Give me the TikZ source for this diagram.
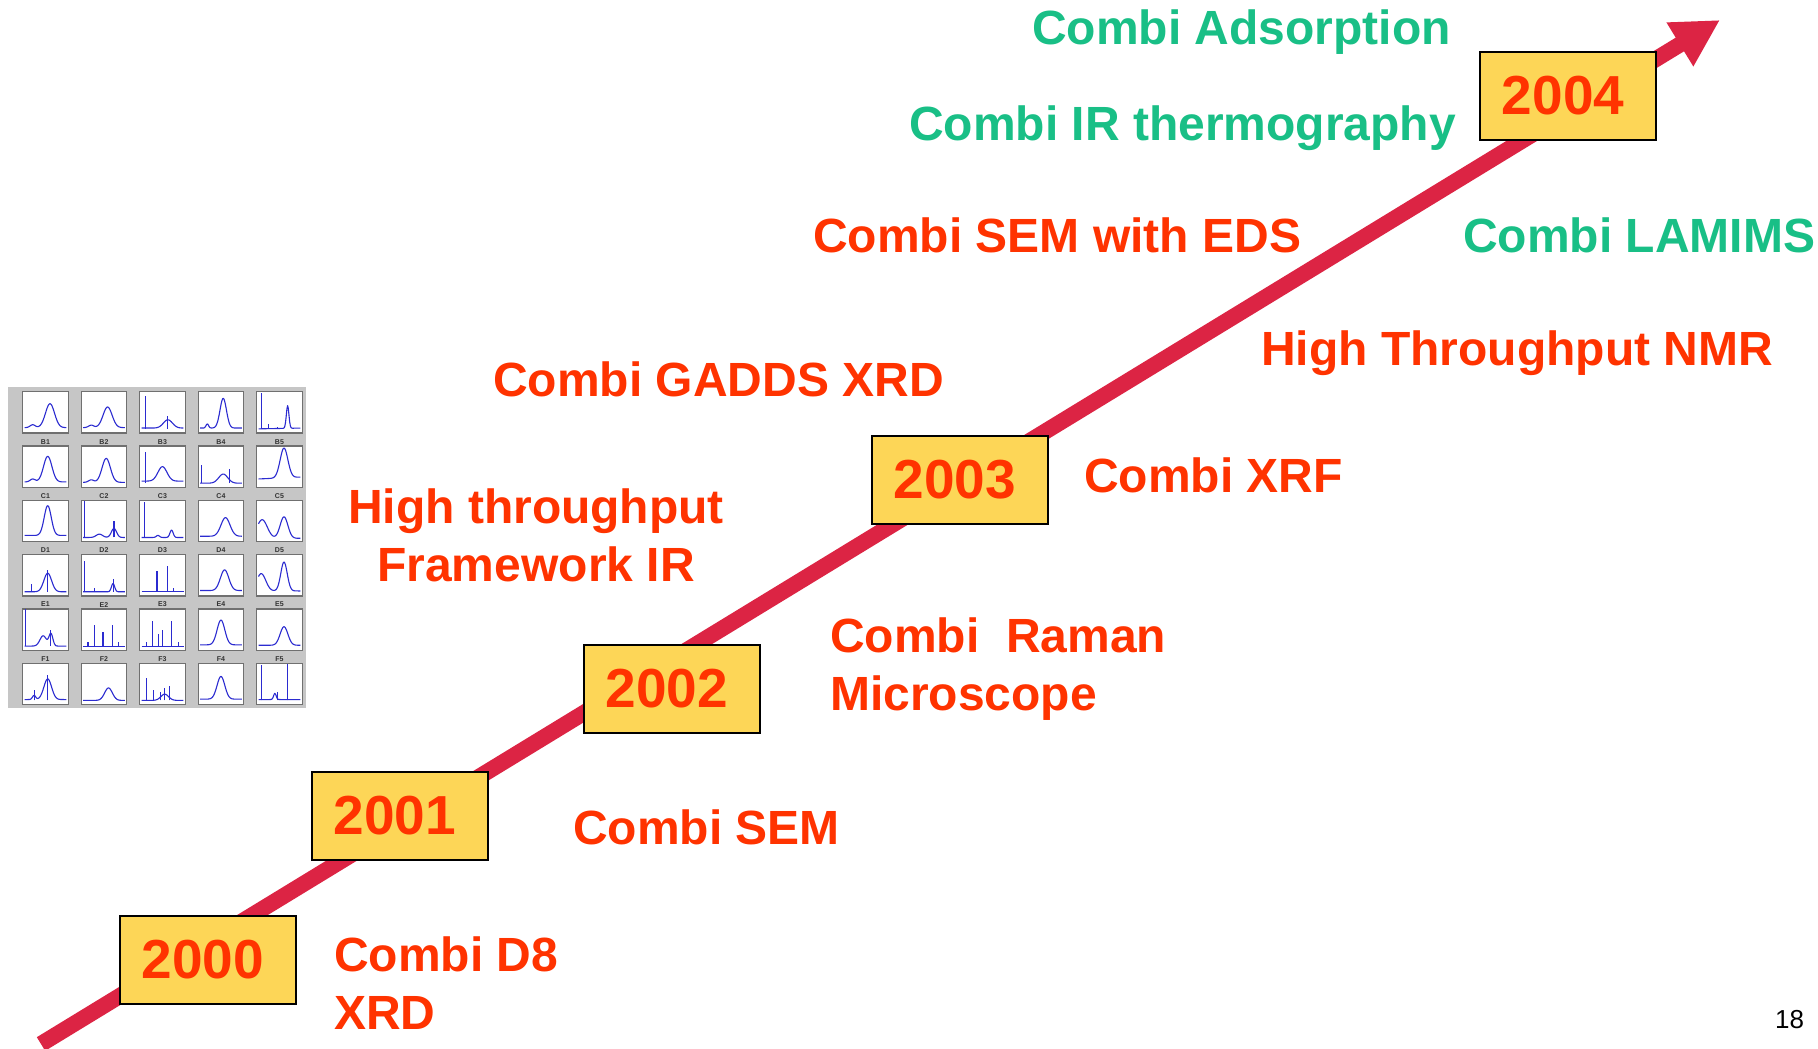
\documentclass[tikz,border=0pt]{standalone}
\usepackage{fontspec}
\setmainfont{Liberation Sans}
\usetikzlibrary{arrows.meta}
\definecolor{redtext}{HTML}{FF3300}
\definecolor{greentext}{HTML}{19BF86}
\definecolor{arrowred}{HTML}{DC2444}
\definecolor{boxyellow}{HTML}{FDD657}
\definecolor{gridgrey}{HTML}{C6C6C6}
\definecolor{framegrey}{HTML}{707070}
\definecolor{specblue}{HTML}{2B2BD0}
\tikzset{
  yearbox/.style={draw=black, line width=2pt, fill=boxyellow, minimum width=176pt,
    minimum height=88pt, inner sep=0pt, text=redtext,
    font=\fontsize{55}{60}\selectfont\bfseries,
    execute at begin node={\hspace*{-10pt}}},
  redlabel/.style={text=redtext, inner sep=0pt, font=\fontsize{48}{58}\selectfont\bfseries},
  greenlabel/.style={text=greentext, inner sep=0pt, font=\fontsize{48}{58}\selectfont\bfseries},
  arrowline/.style={draw=arrowred, line width=16pt, -{Triangle[length=47pt,width=48pt]}},
  panelframe/.style={draw=framegrey, line width=1.2pt, fill=white},
  speccurve/.style={draw=specblue, line width=1.1pt, line join=round},
  panellabel/.style={text=black!80, inner sep=0pt, font=\fontsize{7}{8}\selectfont\bfseries},
}
\newcommand\spk[2]{\draw[speccurve] (#1,0.1) -- (#1,#2);}
\newcommand\specpanel[5]{%
  \begin{scope}[shift={({22.7+58.5*#1},{433+54.3*#2})}, x=45.5pt, y=41.3pt]
    \draw[panelframe] (0,0) rectangle (1,1);
    \begin{scope}
      \clip (0.02,0.02) rectangle (0.98,0.98);
      \draw[speccurve] plot[domain=0.04:0.96, samples=60] (\x,{#4});
      #5
    \end{scope}
    \if\relax\detokenize{#3}\relax\else
      \node[panellabel] (lbl#3) at (0.5,-0.21) {#3};
    \fi
  \end{scope}}
\begin{document}
\begin{tikzpicture}[x=1pt, y=-1pt,
  declare function={gs(\t,\c,\w)=exp(-min(10,((\t-\c)/\w)*((\t-\c)/\w)));}]
\useasboundingbox (0,0) rectangle (1818,1049);
\fill[white] (0,0) rectangle (1818,1049);

% spectra grid
\fill[gridgrey] (8,387) rectangle (306,708);
\specpanel{0}{0}{B1}{0.13+0.07*gs(\x,0.22,0.08)+0.58*gs(\x,0.6,0.14)}{}
\specpanel{1}{0}{B2}{0.13+0.06*gs(\x,0.22,0.08)+0.5*gs(\x,0.58,0.14)}{}
\specpanel{2}{0}{B3}{0.12+0.2*gs(\x,0.62,0.14)}{\spk{0.12}{0.9}\spk{0.62}{0.42}}
\specpanel{3}{0}{B4}{0.12+0.1*gs(\x,0.2,0.04)+0.72*gs(\x,0.55,0.1)}{}
\specpanel{4}{0}{B5}{0.1+0.02*\x+0.55*gs(\x,0.68,0.04)}{\spk{0.1}{0.98}\spk{0.25}{0.22}\spk{0.45}{0.15}}
\specpanel{0}{1}{C1}{0.13+0.07*gs(\x,0.22,0.08)+0.62*gs(\x,0.55,0.13)}{}
\specpanel{1}{1}{C2}{0.12+0.06*gs(\x,0.22,0.08)+0.58*gs(\x,0.55,0.13)}{}
\specpanel{2}{1}{C3}{0.15+0.35*gs(\x,0.5,0.14)}{\spk{0.12}{0.85}}
\specpanel{3}{1}{C4}{0.1+0.22*gs(\x,0.55,0.14)}{\spk{0.08}{0.55}\spk{0.68}{0.45}}
\specpanel{4}{1}{C5}{0.2+0.05*\x+0.72*gs(\x,0.6,0.12)}{}
\specpanel{0}{2}{D1}{0.15+0.72*gs(\x,0.55,0.11)}{}
\specpanel{1}{2}{D2}{0.1+0.08*gs(\x,0.4,0.1)+0.22*gs(\x,0.72,0.08)}{\spk{0.08}{1.0}\spk{0.72}{0.5}}
\specpanel{2}{2}{D3}{0.1+0.05*gs(\x,0.4,0.05)+0.18*gs(\x,0.7,0.05)}{\spk{0.1}{0.95}}
\specpanel{3}{2}{D4}{0.13+0.45*gs(\x,0.6,0.14)}{}
\specpanel{4}{2}{D5}{0.08+0.45*gs(\x,0.12,0.16)+0.52*gs(\x,0.6,0.12)}{}
\specpanel{0}{3}{E1}{0.1+0.45*gs(\x,0.55,0.12)}{\spk{0.2}{0.28}\spk{0.55}{0.62}}
\specpanel{1}{3}{E2}{0.1+0.2*gs(\x,0.7,0.05)}{\spk{0.08}{0.85}\spk{0.7}{0.4}\spk{0.3}{0.2}}
\specpanel{2}{3}{E3}{0.1+0*\x}{\spk{0.38}{0.6}\spk{0.62}{0.72}\spk{0.75}{0.2}}
\specpanel{3}{3}{E4}{0.13+0.5*gs(\x,0.58,0.13)}{}
\specpanel{4}{3}{E5}{0.12+0.42*gs(\x,0.1,0.14)+0.7*gs(\x,0.6,0.1)}{}
\specpanel{0}{4}{F1}{0.1+0.25*gs(\x,0.45,0.1)+0.3*gs(\x,0.62,0.06)}{\spk{0.06}{1.0}\spk{0.62}{0.5}}
\specpanel{1}{4}{F2}{0.1+0*\x}{\spk{0.3}{0.6}\spk{0.48}{0.45}\spk{0.68}{0.62}\spk{0.15}{0.2}\spk{0.82}{0.2}}
\specpanel{2}{4}{F3}{0.1+0*\x}{\spk{0.28}{0.7}\spk{0.42}{0.4}\spk{0.5}{0.5}\spk{0.7}{0.7}\spk{0.15}{0.2}\spk{0.85}{0.2}}
\specpanel{3}{4}{F4}{0.13+0.6*gs(\x,0.5,0.12)}{}
\specpanel{4}{4}{F5}{0.12+0.45*gs(\x,0.6,0.12)}{}
\specpanel{0}{5}{}{0.12+0.1*gs(\x,0.25,0.05)+0.5*gs(\x,0.55,0.12)}{\spk{0.25}{0.35}\spk{0.55}{0.72}}
\specpanel{1}{5}{}{0.1+0.3*gs(\x,0.6,0.12)}{}
\specpanel{2}{5}{}{0.1+0.15*gs(\x,0.55,0.12)}{\spk{0.15}{0.65}\spk{0.3}{0.35}\spk{0.45}{0.3}\spk{0.55}{0.4}\spk{0.65}{0.45}}
\specpanel{3}{5}{}{0.13+0.55*gs(\x,0.5,0.12)}{}
\specpanel{4}{5}{}{0.12+0.15*gs(\x,0.4,0.04)}{\spk{0.1}{0.95}\spk{0.68}{0.98}\spk{0.45}{0.3}}

% timeline arrow
\coordinate (arrowstart) at (41,1044);
\coordinate (arrowtip) at (1720,20);
\begin{scope}
  \clip (0,0) rectangle (1818,1049);
  \draw[arrowline] (arrowstart) -- (arrowtip);
\end{scope}

% year boxes
\node[yearbox] (y2000) at (208,960) {2000};
\node[yearbox] (y2001) at (400,816) {2001};
\node[yearbox] (y2002) at (672,689) {2002};
\node[yearbox] (y2003) at (960,480) {2003};
\node[yearbox] (y2004) at (1568,96) {2004};

% labels
\node[greenlabel, anchor=base west] (adsorption) at (1032,45) {Combi Adsorption};
\node[greenlabel, anchor=base west] (irthermo) at (909,140) {Combi IR thermography};
\node[redlabel, anchor=base west] (semeds) at (813,252) {Combi SEM with EDS};
\node[greenlabel, anchor=base west] (lamims) at (1463,252) {Combi LAMIMS};
\node[redlabel, anchor=base west] (nmr) at (1261,365) {High Throughput NMR};
\node[redlabel, anchor=base west] (gadds) at (493,396) {Combi GADDS XRD};
\node[redlabel, anchor=base west] (xrf) at (1084,492) {Combi XRF};
\node[redlabel, anchor=north, align=center] (ftir) at (536,489) {High throughput\\Framework IR};
\node[redlabel, anchor=north west, align=left] (raman) at (830,618) {Combi\ \ Raman\\Microscope};
\node[redlabel, anchor=base west] (sem) at (573,844) {Combi SEM};
\node[redlabel, anchor=north west, align=left] (d8) at (334,937) {Combi D8\\XRD};
\node[anchor=base west, inner sep=0pt, font=\fontsize{26}{30}\selectfont] (pagenum) at (1775,1028) {18};
\end{tikzpicture}
\end{document}
